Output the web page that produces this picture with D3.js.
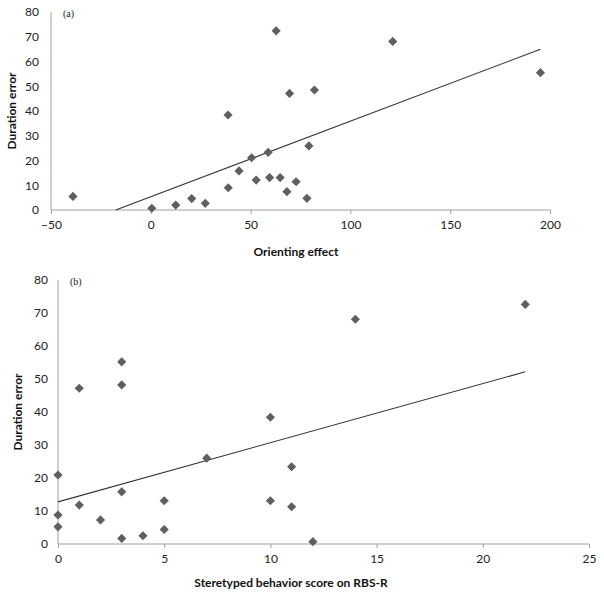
<!DOCTYPE html>
<html>
<head>
<meta charset="utf-8">
<script src="https://d3js.org/d3.v7.min.js"></script>
<style>
body { margin:0; background:#fff; }
.tick text { font-family: Lato, "Open Sans", sans-serif; font-size:12px; fill:#222; }
.axis path, .axis line { stroke:#a0a0a0; }
.title { font-family: Lato, "Open Sans", sans-serif; font-size:12px; font-weight:bold; fill:#111; }
.panel { font-family: "Liberation Serif", serif; font-size:10px; fill:#222; }
.pt { fill:#5f5f5f; }
.trend { stroke:#333; stroke-width:1.1px; fill:none; }
</style>
</head>
<body>
<script>
// panel (a): orienting effect vs duration error
var orientX = [-39, 0.5, 12.5, 20.5, 27.3, 38.7, 38.8, 44.2, 50.5, 52.8, 58.8, 59.5, 64.8, 62.8, 68.2, 69.5, 72.8, 79.2, 82, 78.2, 121.2, 195.2];
var orientY = [5.5, 0.7, 2, 4.6, 2.7, 38.4, 9.0, 15.8, 21.1, 12.1, 23.3, 13.1, 13.1, 72.4, 7.4, 47.1, 11.4, 25.9, 48.5, 4.7, 68.1, 55.5];

// panel (b): RBS-R stereotyped behaviour score vs duration error
var rbsX = [0, 0, 0, 1, 1, 2, 3, 3, 3, 3, 4, 5, 5, 7, 10, 10, 11, 11, 12, 14, 22];
var rbsY = [20.9, 8.8, 5.2, 11.8, 47.2, 7.3, 55.2, 48.2, 15.8, 1.7, 2.5, 13.1, 4.4, 26.0, 38.4, 13.1, 23.4, 11.3, 0.7, 68.1, 72.6];

var ticksA = [-50, 0, 50, 100, 150, 200];
var ticksB = [0, 5, 10, 15, 20, 25];
var ticksY = [0, 10, 20, 30, 40, 50, 60, 70, 80];

var svg = d3.select("body").append("svg")
    .attr("width", 604)
    .attr("height", 597);

function fit(xs, ys) {
  var mx = d3.mean(xs), my = d3.mean(ys);
  var sxy = d3.sum(xs, function(x, i) { return (x - mx) * (ys[i] - my); });
  var sxx = d3.sum(xs, function(x) { return (x - mx) * (x - mx); });
  var b = sxy / sxx;
  return { slope: b, icpt: my - b * mx };
}

function panel(opt) {
  var x = d3.scaleLinear().domain(opt.xdom).range([opt.left, opt.right]);
  var y = d3.scaleLinear().domain([0, 80]).range([opt.bottom, opt.top]);
  var g = svg.append("g");

  g.append("g").attr("class", "axis")
    .attr("transform", "translate(0," + opt.bottom + ")")
    .call(d3.axisBottom(x).tickValues(opt.xticks).tickSize(4).tickPadding(6))
    .call(function(s) { s.select(".domain").attr("d", "M" + opt.left + ",0H" + opt.right); });

  g.append("g").attr("class", "axis")
    .attr("transform", "translate(" + opt.left + ",0)")
    .call(d3.axisLeft(y).tickValues(ticksY).tickSize(0).tickPadding(opt.ypad))
    .call(function(s) { s.select(".domain").attr("d", "M0," + opt.bottom + "V" + opt.top); });

  // trend line over the data range, cut where it meets y = 0
  var f = fit(opt.xs, opt.ys);
  var x0 = Math.max(d3.min(opt.xs), -f.icpt / f.slope);
  var x1 = d3.max(opt.xs);
  g.append("line").attr("class", "trend")
    .attr("x1", x(x0)).attr("y1", y(f.icpt + f.slope * x0))
    .attr("x2", x(x1)).attr("y2", y(f.icpt + f.slope * x1));

  g.selectAll("path.pt")
    .data(opt.xs)
    .enter().append("path")
    .attr("class", "pt")
    .attr("d", d3.symbol(d3.symbolSquare, 42)())
    .attr("transform", function(d, i) { return "translate(" + x(d) + "," + y(opt.ys[i]) + ") rotate(45)"; });

  g.append("text").attr("class", "panel")
    .attr("x", opt.left + 12).attr("y", opt.top + 5)
    .text(opt.tag);

  g.append("text").attr("class", "title")
    .attr("text-anchor", "middle")
    .attr("x", opt.xlabX).attr("y", opt.xlabY)
    .text(opt.xlab);

  g.append("text").attr("class", "title")
    .attr("text-anchor", "middle")
    .attr("transform", "translate(" + opt.ylabX + "," + (opt.top + opt.bottom) / 2 + ") rotate(-90)")
    .text("Duration error");
}

panel({ xs: orientX, ys: orientY, xdom: [-50, 200], xticks: ticksA,
  left: 51, right: 550, top: 12, bottom: 210, ypad: 12,
  tag: "(a)", xlab: "Orienting effect", xlabX: 296, xlabY: 256, ylabX: 16 });

panel({ xs: rbsX, ys: rbsY, xdom: [0, 25], xticks: ticksB,
  left: 58, right: 589, top: 280, bottom: 544, ypad: 10,
  tag: "(b)", xlab: "Steretyped behavior score on RBS-R", xlabX: 291, xlabY: 587, ylabX: 22 });
</script>
</body>
</html>
